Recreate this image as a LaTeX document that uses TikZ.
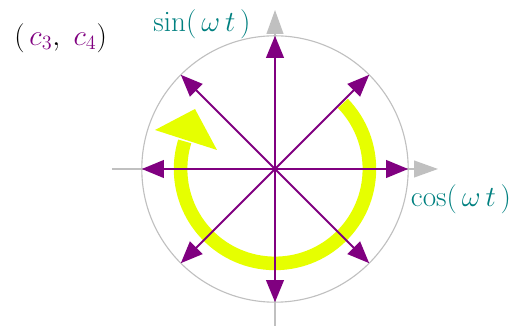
\documentclass[tikz,border=0pt]{standalone}
\usepackage{amsmath}
\usepackage{tikz}
\usetikzlibrary{arrows.meta}
\definecolor{CP}{RGB}{128, 0, 128}
\definecolor{CT}{RGB}{0, 128, 128}
\definecolor{CY}{RGB}{230, 255, 0}
\definecolor{CG}{RGB}{192, 192, 192}

\begin{document}
\begin{tikzpicture}
        \useasboundingbox (-6.875,-3.925) rectangle (5.975,4.225);
        \coordinate (O) at (0,0);
        % axes and unit circle
        \draw[CG, line width=0.8pt] (O) circle (3.33);
        \coordinate (xl) at (-4.075,0);
        \coordinate (xr) at (4.075,0);
        \coordinate (yb) at (0,-4.075);
        \coordinate (yt) at (0,3.975);
        \draw[CG, line width=1.2pt, -{Triangle[length=0.6cm,width=0.42cm]}] (xl) -- (xr);
        \draw[CG, line width=1.2pt, -{Triangle[length=0.6cm,width=0.42cm]}] (yb) -- (yt);
        % rotation
        \draw[CY, line width=0.34cm] (44:2.36) arc[start angle=44, end angle=-197, radius=2.36];
        \fill[CY] (-3.0,0.975) -- (-2.0,1.5) -- (-1.45,0.475) -- cycle;
        % eight vectors
        \foreach \a in {0,45,...,315} {
            \coordinate (v\a) at (\a:3.33);
            \draw[CP, line width=1.4pt, -{Triangle[length=0.55cm,width=0.44cm]}] (O) -- (v\a);
        }
        \node[text=CT, font=\fontsize{22}{26}\selectfont] (sinlbl) at (-1.825, 3.62) {$\sin(\,\omega\, t\,)$};
        \node[text=CT, font=\fontsize{22}{26}\selectfont] (coslbl) at (4.65, -0.75) {$\cos(\,\omega\, t\,)$};
        \node[font=\fontsize{20}{24}\selectfont] (pair) at (-5.36, 3.275) {$(\,\textcolor{CP}{c_3},\ \textcolor{CP}{c_4})$};
    \end{tikzpicture}
\end{document}
